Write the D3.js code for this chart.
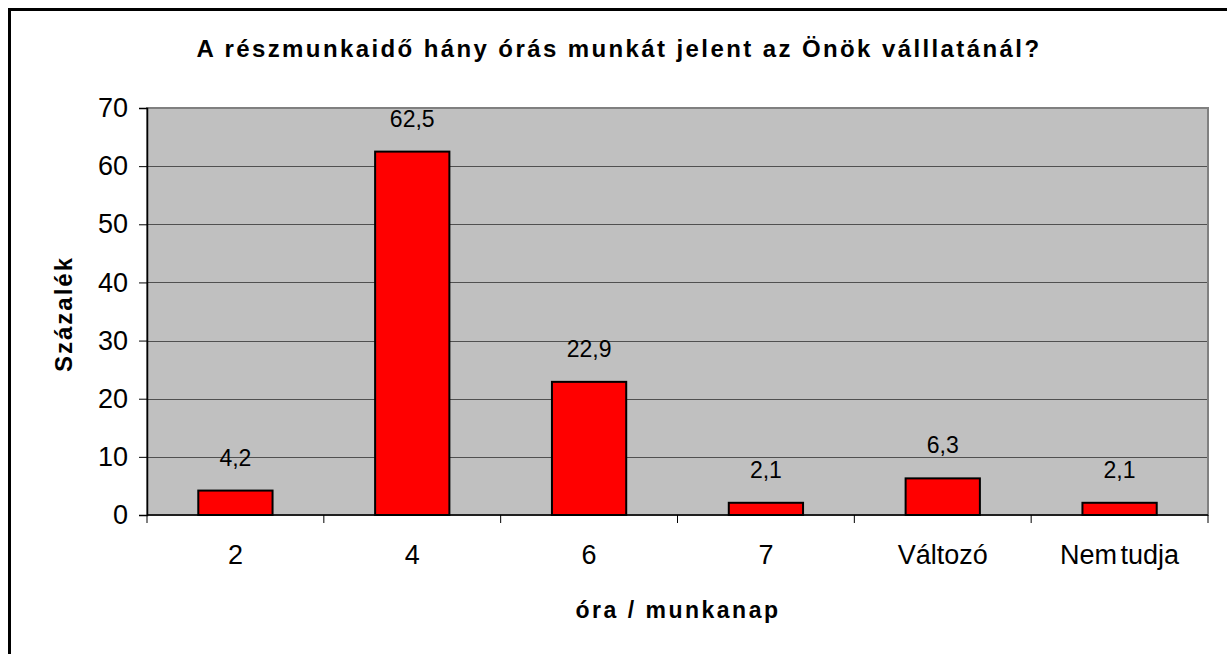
<!DOCTYPE html>
<html>
<head>
<meta charset="utf-8">
<script src="https://cdn.jsdelivr.net/npm/d3@7"></script>
<style>
  body { margin: 0; background: #fff; }
  svg { display: block; font-family: "Liberation Sans", Arial, sans-serif; }
</style>
</head>
<body>
<svg id="chart" width="1227" height="654"></svg>
<script>
// 데이터
const categories = ["2", "4", "6", "7", "Változó", "Nem tudja"];
const values = [4.2, 62.5, 22.9, 2.1, 6.3, 2.1];
const yTicks = [0, 10, 20, 30, 40, 50, 60, 70];
const valueLabels = ["4,2", "62,5", "22,9", "2,1", "6,3", "2,1"];

const W = 1227, H = 654;
const plot = { left: 147, right: 1208, top: 108, bottom: 515 };

const svg = d3.select("#chart");

// 바깥 테두리 (오른쪽/아래는 화면 밖)
svg.append("rect")
  .attr("x", 9.5).attr("y", 9.5)
  .attr("width", W + 20).attr("height", H + 20)
  .attr("fill", "#fff").attr("stroke", "#000").attr("stroke-width", 3);

const x = d3.scaleBand().domain(categories)
  .range([plot.left, plot.right])
  .paddingInner(0.58).paddingOuter(0.29);
const y = d3.scaleLinear().domain([0, 70]).range([plot.bottom, plot.top]);

// 플롯 배경
svg.append("rect")
  .attr("x", plot.left).attr("y", plot.top)
  .attr("width", plot.right - plot.left).attr("height", plot.bottom - plot.top)
  .attr("fill", "#c0c0c0");

// 그리드
svg.append("g").selectAll("line").data(yTicks.filter(d => d > 0 && d < 70)).join("line")
  .attr("x1", plot.left).attr("x2", plot.right)
  .attr("y1", d => Math.round(y(d)) + 0.5).attr("y2", d => Math.round(y(d)) + 0.5)
  .attr("stroke", "#505050").attr("stroke-width", 1);

// 플롯 테두리
svg.append("rect")
  .attr("x", plot.left).attr("y", plot.top)
  .attr("width", plot.right - plot.left).attr("height", plot.bottom - plot.top)
  .attr("fill", "none").attr("stroke", "#808080").attr("stroke-width", 2);

// 막대
svg.append("g").selectAll("rect").data(values).join("rect")
  .attr("x", (d, i) => x(categories[i]))
  .attr("y", d => y(d))
  .attr("width", x.bandwidth())
  .attr("height", d => y(0) - y(d))
  .attr("fill", "#ff0000").attr("stroke", "#000").attr("stroke-width", 2);

// 값 라벨
svg.append("g").selectAll("text").data(values).join("text")
  .attr("x", (d, i) => x(categories[i]) + x.bandwidth() / 2)
  .attr("y", d => y(d) - 25)
  .attr("text-anchor", "middle")
  .attr("font-size", 23)
  .text((d, i) => valueLabels[i]);

// Y축
const yAxis = svg.append("g")
  .attr("transform", `translate(${plot.left},0)`)
  .call(d3.axisLeft(y).tickValues(yTicks).tickSize(8).tickPadding(11).tickFormat(d3.format("d")));
yAxis.select(".domain").attr("stroke", "#000").attr("stroke-width", 1.5);
yAxis.selectAll(".tick line").attr("stroke", "#000");
yAxis.selectAll("text").attr("font-size", 27).attr("fill", "#000")
  .attr("font-family", "Liberation Sans, Arial, sans-serif");

// X축 (카테고리 경계에 눈금)
const step = (plot.right - plot.left) / categories.length;
const xLine = svg.append("g");
xLine.append("line")
  .attr("x1", plot.left).attr("x2", plot.right)
  .attr("y1", plot.bottom).attr("y2", plot.bottom)
  .attr("stroke", "#000").attr("stroke-width", 1.5);
xLine.selectAll(".tk").data(d3.range(categories.length + 1)).join("line")
  .attr("x1", i => plot.left + i * step).attr("x2", i => plot.left + i * step)
  .attr("y1", plot.bottom).attr("y2", plot.bottom + 8)
  .attr("stroke", "#000");
xLine.selectAll("text").data(categories).join("text")
  .attr("x", d => x(d) + x.bandwidth() / 2)
  .attr("y", 564)
  .attr("text-anchor", "middle")
  .attr("font-size", 27)
  .style("word-spacing", "-4px")
  .text(d => d);

// 제목
svg.append("text")
  .attr("x", 619).attr("y", 57)
  .attr("text-anchor", "middle")
  .attr("font-size", 24).attr("font-weight", "bold")
  .style("letter-spacing", "2.4px")
  .text("A részmunkaidő hány órás munkát jelent az Önök válllatánál?");

svg.append("text")
  .attr("x", 678).attr("y", 618)
  .attr("text-anchor", "middle")
  .attr("font-size", 23).attr("font-weight", "bold")
  .style("letter-spacing", "2.5px")
  .text("óra / munkanap");

svg.append("text")
  .attr("transform", "translate(72,314) rotate(-90)")
  .attr("text-anchor", "middle")
  .attr("font-size", 24).attr("font-weight", "bold")
  .style("letter-spacing", "2px")
  .text("Százalék");
</script>
</body>
</html>
